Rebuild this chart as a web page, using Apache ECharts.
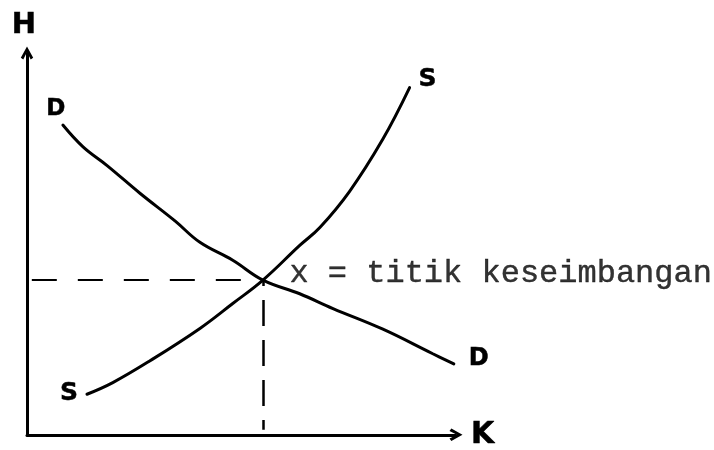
<!DOCTYPE html>
<html>
<head>
<meta charset="utf-8">
<script src="https://cdn.jsdelivr.net/npm/echarts@6/dist/echarts.min.js"></script>
<style>
html, body { margin: 0; padding: 0; background: #fff; }
#chart { width: 714px; height: 450px; }
</style>
</head>
<body>
<div id="chart"></div>
<script>
// kurva permintaan (D): jumlah K, harga H
const demandK = [8.2, 12.8, 18.3, 25.8, 33.8, 39.5, 47.0, 53.9, 62.3, 69.9, 81.3, 92.7, 97.5]
const demandH = [79.5, 73.9, 69.1, 62.0, 54.9, 49.4, 44.8, 39.7, 36.2, 32.4, 27.1, 20.8, 18.2]

// kurva penawaran (S)
const supplyK = [13.7, 19.6, 28.1, 39.5, 47.0, 53.9, 62.3, 66.9, 73.7, 81.3, 87.4]
const supplyH = [10.4, 13.4, 19.0, 27.3, 33.7, 39.7, 48.6, 53.2, 62.5, 75.9, 89.1]

// titik keseimbangan
const eqK = 53.9
const eqH = 39.7

const axisNames = ['K', 'H']
const curveNames = ['D', 'S']
const eqText = 'x = titik keseimbangan'

const hand = {
    fontFamily: 'DejaVu Sans',
    fontWeight: 'bold',
    color: '#000',
    textBorderColor: '#000',
    textBorderWidth: 0.5
}

// panah terbuka (chevron)
const chevron = 'path://M0,9 L5,0 L10,9 L8,10.5 L5,4.5 L2,10.5 Z'

function toPoints(xs, ys) {
    return xs.map((x, i) => [x, ys[i]])
}

const demandData = toPoints(demandK, demandH)
demandData[0] = {
    value: demandData[0],
    label: { show: true, formatter: curveNames[0], position: 'top', distance: 5, offset: [-7, 0], fontSize: 23, ...hand }
}

const supplyData = toPoints(supplyK, supplyH)
supplyData[0] = {
    value: supplyData[0],
    label: { show: true, formatter: curveNames[1], position: 'left', distance: 9, offset: [0, -1], fontSize: 25, ...hand }
}

const axisLine = {
    show: true,
    symbol: ['none', chevron],
    symbolSize: [18, 13],
    lineStyle: { color: '#000', width: 3 }
}

const chart = echarts.init(document.getElementById('chart'))
const option = {
    animation: false,
    backgroundColor: '#fff',
    grid: { left: 27, top: 53, width: 429, height: 387 },
    xAxis: {
        type: 'value',
        min: 0,
        max: 98,
        name: axisNames[0],
        nameLocation: 'end',
        nameGap: 15,
        nameTextStyle: { fontSize: 30, ...hand, verticalAlign: 'middle' },
        axisLine: axisLine,
        axisTick: { show: false },
        axisLabel: { show: false },
        splitLine: { show: false }
    },
    yAxis: {
        type: 'value',
        min: 0,
        max: 98,
        name: axisNames[1],
        nameLocation: 'end',
        nameGap: 13,
        nameTextStyle: { fontSize: 29, ...hand, align: 'center', padding: [0, 6, 0, 0] },
        axisLine: axisLine,
        axisTick: { show: false },
        axisLabel: { show: false },
        splitLine: { show: false }
    },
    series: [
        {
            name: curveNames[0],
            type: 'line',
            data: demandData,
            smooth: 0.4,
            showSymbol: true,
            symbol: 'circle',
            symbolSize: 0,
            lineStyle: { color: '#000', width: 3, cap: 'round' },
            endLabel: { show: true, formatter: curveNames[0], distance: 15, offset: [0, -5], fontSize: 24, ...hand }
        },
        {
            name: curveNames[1],
            type: 'line',
            data: supplyData,
            smooth: 0.4,
            showSymbol: true,
            symbol: 'circle',
            symbolSize: 0,
            lineStyle: { color: '#000', width: 3, cap: 'round' },
            endLabel: { show: true, formatter: curveNames[1], distance: 9, offset: [0, -8], fontSize: 25, ...hand }
        },
        {
            name: 'keseimbangan',
            type: 'scatter',
            data: [[eqK, eqH]],
            symbolSize: 1,
            itemStyle: { color: '#000' },
            clip: false,
            label: {
                show: true,
                formatter: eqText,
                position: 'right',
                distance: 26,
                offset: [0, -7],
                fontFamily: 'Liberation Mono',
                fontSize: 32,
                color: '#000',
                textBorderColor: '#000',
                textBorderWidth: 0.4
            },
            markLine: {
                silent: true,
                symbol: 'none',
                label: { show: false },
                data: [
                    [
                        { coord: [1.1, eqH], lineStyle: { color: '#000', width: 2, type: [25, 21] } },
                        { coord: [eqK, eqH] }
                    ],
                    [
                        { coord: [eqK, eqH], lineStyle: { color: '#000', width: 2.5, type: [26, 14], dashOffset: 20 } },
                        { coord: [eqK, 1.3] }
                    ]
                ]
            }
        }
    ]
}
chart.setOption(option)
</script>
</body>
</html>
